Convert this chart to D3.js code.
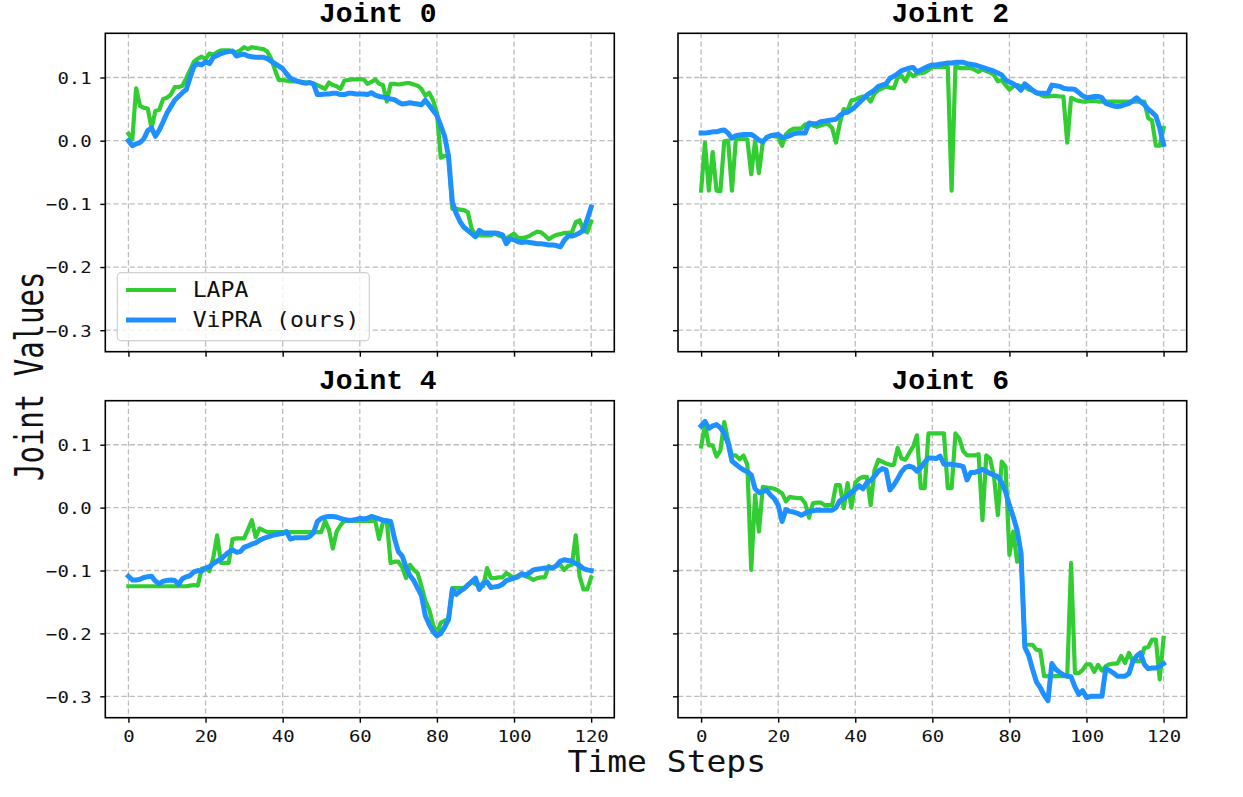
<!DOCTYPE html>
<html><head><meta charset="utf-8">
<script src="https://cdn.jsdelivr.net/npm/d3@7"></script>
<style>body{margin:0;background:#fff}</style>
</head><body>
<svg id="chart" width="1243" height="797"></svg>
<script>
// ---------------- data ----------------
const seriesNames = ["LAPA", "ViPRA (ours)"];
const jointTitles = ["Joint 0", "Joint 2", "Joint 4", "Joint 6"];
const xTicks = [0, 20, 40, 60, 80, 100, 120];
const yTicks = [0.1, 0.0, -0.1, -0.2, -0.3];
const yTickLabels = ["0.1", "0.0", "\u22120.1", "\u22120.2", "\u22120.3"];
const xLabel = "Time Steps";
const yLabel = "Joint Values";

const joint0Lapa = [0.011,0.002,0.083,0.055,0.052,0.051,0.020,0.047,0.049,0.066,0.068,0.073,0.085,0.085,0.087,0.099,0.112,0.125,0.130,0.133,
0.129,0.138,0.136,0.140,0.143,0.143,0.143,0.141,0.140,0.143,0.148,0.145,0.148,0.147,0.146,0.145,0.141,0.130,0.112,0.096,
0.096,0.095,0.094,0.094,0.094,0.093,0.092,0.092,0.090,0.088,0.085,0.082,0.092,0.088,0.086,0.082,0.095,0.096,0.097,0.097,
0.097,0.097,0.090,0.093,0.097,0.090,0.088,0.062,0.090,0.090,0.089,0.090,0.091,0.091,0.089,0.087,0.082,0.071,0.076,0.064,
0.044,-0.027,-0.024,-0.024,-0.108,-0.108,-0.109,-0.110,-0.113,-0.139,-0.150,-0.150,-0.150,-0.150,-0.150,-0.146,-0.150,-0.152,-0.155,-0.151,
-0.147,-0.154,-0.154,-0.153,-0.151,-0.147,-0.144,-0.145,-0.150,-0.156,-0.152,-0.149,-0.148,-0.146,-0.146,-0.145,-0.129,-0.126,-0.142,-0.145,
-0.128];
const joint0Vipra = [0.000,-0.008,-0.005,-0.003,0.003,0.016,0.020,0.007,0.017,0.030,0.044,0.054,0.064,0.070,0.076,0.081,0.100,0.118,0.122,0.120,
0.125,0.122,0.132,0.135,0.138,0.140,0.141,0.142,0.134,0.136,0.137,0.134,0.133,0.132,0.132,0.132,0.130,0.126,0.122,0.118,
0.114,0.106,0.099,0.096,0.094,0.092,0.091,0.092,0.090,0.073,0.073,0.074,0.074,0.075,0.075,0.073,0.073,0.075,0.075,0.074,
0.074,0.074,0.073,0.076,0.072,0.070,0.069,0.068,0.066,0.065,0.061,0.058,0.059,0.060,0.059,0.058,0.057,0.064,0.056,0.048,
0.040,0.024,0.007,-0.024,-0.097,-0.115,-0.128,-0.137,-0.142,-0.147,-0.152,-0.142,-0.146,-0.146,-0.146,-0.146,-0.147,-0.149,-0.163,-0.155,
-0.157,-0.160,-0.161,-0.160,-0.161,-0.162,-0.163,-0.163,-0.164,-0.165,-0.165,-0.166,-0.168,-0.158,-0.151,-0.151,-0.149,-0.146,-0.142,-0.124,
-0.105];
const joint2Lapa = [-0.079,-0.003,-0.079,-0.018,-0.079,-0.080,-0.001,0.000,-0.079,0.002,0.003,0.003,0.002,-0.053,0.000,-0.051,-0.002,0.005,0.008,0.007,
0.006,-0.008,0.010,0.016,0.019,0.019,0.019,0.026,0.025,0.024,0.022,0.024,0.026,0.026,0.020,-0.003,0.028,0.050,0.048,0.064,
0.065,0.068,0.070,0.069,0.062,0.075,0.080,0.083,0.086,0.084,0.083,0.100,0.103,0.094,0.108,0.102,0.106,0.107,0.108,0.112,
0.117,0.117,0.117,0.117,0.117,-0.079,0.120,0.115,0.115,0.115,0.115,0.112,0.109,0.113,0.110,0.108,0.104,0.094,0.096,0.088,
0.081,0.086,0.088,0.086,0.085,0.081,0.079,0.075,0.073,0.070,0.070,0.071,0.071,0.070,0.070,-0.003,0.068,0.065,0.063,0.062,
0.062,0.063,0.063,0.062,0.062,0.062,0.062,0.062,0.062,0.062,0.062,0.062,0.062,0.062,0.062,0.062,0.036,0.032,-0.008,-0.008,
0.020];
const joint2Vipra = [0.012,0.012,0.013,0.014,0.014,0.016,0.017,0.012,0.004,0.008,0.009,0.010,0.010,0.010,0.006,0.001,-0.002,0.005,0.008,0.009,
0.010,0.005,0.006,0.008,0.011,0.012,0.012,0.012,0.028,0.027,0.027,0.030,0.031,0.032,0.033,0.034,0.040,0.044,0.045,0.049,
0.054,0.060,0.066,0.072,0.076,0.080,0.086,0.088,0.090,0.099,0.102,0.106,0.111,0.113,0.115,0.116,0.109,0.112,0.115,0.118,
0.120,0.120,0.121,0.122,0.123,0.123,0.124,0.124,0.124,0.122,0.121,0.120,0.118,0.116,0.114,0.112,0.110,0.107,0.104,0.096,
0.093,0.090,0.086,0.080,0.090,0.085,0.080,0.076,0.075,0.075,0.075,0.088,0.087,0.086,0.083,0.082,0.082,0.081,0.076,0.071,
0.068,0.069,0.070,0.070,0.068,0.059,0.057,0.055,0.054,0.055,0.057,0.059,0.063,0.068,0.062,0.057,0.050,0.045,0.039,0.020,
-0.006];
const joint4Lapa = [-0.125,-0.125,-0.125,-0.125,-0.125,-0.125,-0.125,-0.125,-0.125,-0.125,-0.125,-0.125,-0.125,-0.125,-0.125,-0.125,-0.124,-0.123,-0.124,-0.097,
-0.096,-0.101,-0.080,-0.044,-0.088,-0.088,-0.088,-0.050,-0.049,-0.049,-0.049,-0.035,-0.020,-0.047,-0.033,-0.036,-0.039,-0.039,-0.039,-0.039,
-0.039,-0.039,-0.039,-0.039,-0.039,-0.039,-0.039,-0.039,-0.039,-0.039,-0.039,-0.021,-0.035,-0.065,-0.038,-0.028,-0.021,-0.021,-0.021,-0.021,
-0.021,-0.021,-0.021,-0.021,-0.021,-0.050,-0.023,-0.021,-0.088,-0.086,-0.086,-0.095,-0.112,-0.091,-0.099,-0.104,-0.125,-0.148,-0.162,-0.186,
-0.199,-0.183,-0.180,-0.176,-0.128,-0.128,-0.128,-0.128,-0.124,-0.117,-0.122,-0.124,-0.125,-0.096,-0.112,-0.112,-0.111,-0.111,-0.104,-0.108,
-0.112,-0.108,-0.107,-0.109,-0.111,-0.115,-0.112,-0.111,-0.111,-0.093,-0.096,-0.093,-0.091,-0.099,-0.093,-0.091,-0.044,-0.109,-0.130,-0.130,
-0.111];
const joint4Vipra = [-0.109,-0.115,-0.115,-0.114,-0.111,-0.110,-0.109,-0.117,-0.121,-0.117,-0.116,-0.115,-0.116,-0.122,-0.113,-0.110,-0.108,-0.102,-0.100,-0.101,
-0.096,-0.094,-0.089,-0.085,-0.082,-0.076,-0.071,-0.067,-0.071,-0.070,-0.063,-0.061,-0.058,-0.056,-0.052,-0.049,-0.047,-0.045,-0.043,-0.042,
-0.041,-0.038,-0.050,-0.048,-0.048,-0.048,-0.048,-0.046,-0.040,-0.022,-0.017,-0.015,-0.014,-0.014,-0.015,-0.017,-0.019,-0.020,-0.020,-0.019,
-0.017,-0.018,-0.017,-0.014,-0.016,-0.018,-0.020,-0.021,-0.022,-0.049,-0.070,-0.077,-0.095,-0.108,-0.116,-0.128,-0.140,-0.172,-0.186,-0.197,
-0.204,-0.200,-0.190,-0.178,-0.130,-0.138,-0.133,-0.129,-0.123,-0.118,-0.112,-0.130,-0.120,-0.118,-0.127,-0.126,-0.125,-0.122,-0.116,-0.114,
-0.112,-0.110,-0.105,-0.107,-0.104,-0.099,-0.098,-0.097,-0.096,-0.096,-0.096,-0.092,-0.085,-0.083,-0.084,-0.085,-0.089,-0.092,-0.097,-0.099,
-0.100];
const joint6Lapa = [0.097,0.131,0.099,0.099,0.081,0.091,0.136,0.107,0.083,0.083,0.077,0.083,0.068,-0.099,0.020,-0.038,0.033,0.032,0.031,0.030,
0.027,0.023,0.010,0.017,0.016,0.015,0.015,0.007,-0.016,0.007,0.008,0.008,0.004,0.004,0.004,0.036,0.036,-0.001,0.039,0.000,
0.040,0.046,0.049,0.049,0.004,0.060,0.076,0.073,0.070,0.068,0.068,0.095,0.078,0.076,0.087,0.097,0.115,0.031,0.031,0.118,
0.118,0.118,0.118,0.118,0.031,0.031,0.118,0.110,0.090,0.083,0.083,0.083,0.085,-0.020,0.083,0.078,0.049,-0.012,0.073,0.065,
-0.075,-0.038,-0.086,-0.070,-0.218,-0.218,-0.218,-0.226,-0.227,-0.268,-0.268,-0.268,-0.268,-0.268,-0.268,-0.268,-0.088,-0.263,-0.263,-0.258,
-0.249,-0.249,-0.261,-0.250,-0.259,-0.252,-0.249,-0.248,-0.248,-0.236,-0.247,-0.231,-0.244,-0.244,-0.244,-0.223,-0.222,-0.210,-0.210,-0.273,
-0.207];
const joint6Vipra = [0.130,0.137,0.126,0.130,0.132,0.127,0.118,0.102,0.074,0.069,0.064,0.060,0.057,0.052,0.030,0.024,0.026,0.028,0.020,0.014,
0.004,-0.022,-0.003,-0.006,-0.007,-0.009,-0.012,-0.009,-0.006,-0.005,-0.004,-0.004,-0.004,-0.004,-0.004,0.000,0.011,0.014,0.019,0.024,
0.029,0.035,0.030,0.040,0.043,0.050,0.058,0.062,0.060,0.028,0.036,0.046,0.057,0.064,0.066,0.064,0.058,0.064,0.072,0.079,
0.079,0.078,0.082,0.069,0.069,0.069,0.068,0.067,0.065,0.044,0.056,0.056,0.058,0.061,0.058,0.054,0.052,0.049,0.040,0.025,
0.004,-0.015,-0.036,-0.072,-0.222,-0.235,-0.257,-0.277,-0.286,-0.298,-0.307,-0.248,-0.257,-0.262,-0.266,-0.268,-0.269,-0.285,-0.297,-0.291,
-0.302,-0.300,-0.300,-0.300,-0.300,-0.256,-0.259,-0.263,-0.268,-0.268,-0.268,-0.264,-0.245,-0.236,-0.231,-0.249,-0.256,-0.255,-0.255,-0.252,
-0.248];

const lapaSeries = [joint0Lapa, joint2Lapa, joint4Lapa, joint6Lapa];
const vipraSeries = [joint0Vipra, joint2Vipra, joint4Vipra, joint6Vipra];

// ---------------- layout / style ----------------
const colors = ["#32CD32", "#1E90FF"];
const widths = [4.2, 5.0];
const xDomain = [-6, 126];
const yDomain = [-0.334, 0.170];
const panels = [
  {x0: 105.3, x1: 614.3, y0: 33.3,  y1: 351.7, showX: false, showY: true},
  {x0: 678.0, x1: 1186.7, y0: 33.3, y1: 351.7, showX: false, showY: false},
  {x0: 105.3, x1: 614.3, y0: 400.7, y1: 717.7, showX: true,  showY: true},
  {x0: 678.0, x1: 1186.7, y0: 400.7, y1: 717.7, showX: true, showY: false}
];
const monoFont = "'DejaVu Sans Mono', monospace";
const titleFont = "'Liberation Mono', 'Courier New', monospace";
const gridColor = "#bdbdbd";

const svg = d3.select("#chart");

panels.forEach((p, i) => {
  const x = d3.scaleLinear().domain(xDomain).range([p.x0, p.x1]);
  const y = d3.scaleLinear().domain(yDomain).range([p.y1, p.y0]);
  const g = svg.append("g");

  // grid
  g.append("g").selectAll("line").data(xTicks).join("line")
    .attr("x1", d => x(d)).attr("x2", d => x(d))
    .attr("y1", p.y0).attr("y2", p.y1)
    .attr("stroke", gridColor).attr("stroke-width", 1.3)
    .attr("stroke-dasharray", "5.3,2.8");
  g.append("g").selectAll("line").data(yTicks).join("line")
    .attr("x1", p.x0).attr("x2", p.x1)
    .attr("y1", d => y(d)).attr("y2", d => y(d))
    .attr("stroke", gridColor).attr("stroke-width", 1.3)
    .attr("stroke-dasharray", "5.3,2.8");

  // lines
  const line = d3.line().x((d, k) => x(k)).y(d => y(d));
  [lapaSeries[i], vipraSeries[i]].forEach((vals, s) => {
    g.append("path").datum(vals)
      .attr("d", line)
      .attr("fill", "none")
      .attr("stroke", colors[s])
      .attr("stroke-width", widths[s])
      .attr("stroke-linejoin", "round")
      .attr("stroke-linecap", "square");
  });

  // axes
  const xAxis = g.append("g").attr("transform", `translate(0,${p.y1})`)
    .call(d3.axisBottom(x).tickValues(xTicks).tickSize(5).tickFormat(d => d));
  const yAxis = g.append("g").attr("transform", `translate(${p.x0},0)`)
    .call(d3.axisLeft(y).tickValues(yTicks).tickSize(5).tickFormat((d, k) => yTickLabels[k]));
  [xAxis, yAxis].forEach(a => {
    a.select(".domain").remove();
    a.selectAll(".tick line").attr("stroke", "#000").attr("stroke-width", 1.4);
    a.selectAll("text").attr("font-family", monoFont).attr("font-size", 16.5).attr("fill", "#111");
  });
  if (p.showX) {
    xAxis.selectAll(".tick text").attr("y", null).attr("dy", null)
      .attr("transform", "translate(0,23.8) scale(1.15,1)");
  } else {
    xAxis.selectAll(".tick text").remove();
  }
  if (p.showY) {
    yAxis.selectAll(".tick text").attr("x", null).attr("dy", "0.36em")
      .attr("transform", "translate(-13.6,0) scale(1.15,1)");
  } else {
    yAxis.selectAll(".tick text").remove();
  }

  // frame
  g.append("rect").attr("x", p.x0).attr("y", p.y0)
    .attr("width", p.x1 - p.x0).attr("height", p.y1 - p.y0)
    .attr("fill", "none").attr("stroke", "#000").attr("stroke-width", 1.6);

  // title
  g.append("text")
    .attr("x", (p.x0 + p.x1) / 2 + 18).attr("y", p.y0 - 11.3)
    .attr("text-anchor", "middle")
    .attr("font-family", titleFont).attr("font-weight", "bold")
    .attr("font-size", 28).attr("fill", "#000")
    .text(jointTitles[i]);

  // legend in first panel
  if (i === 0) {
    const lg = g.append("g");
    lg.append("rect").attr("x", 117.3).attr("y", 272.7).attr("width", 252).attr("height", 68)
      .attr("rx", 4).attr("fill", "#fff").attr("fill-opacity", 0.8)
      .attr("stroke", "#d0d0d0").attr("stroke-width", 1.2);
    const rowsY = [290, 320];
    seriesNames.forEach((name, s) => {
      lg.append("line").attr("x1", 126).attr("x2", 176)
        .attr("y1", rowsY[s]).attr("y2", rowsY[s])
        .attr("stroke", colors[s]).attr("stroke-width", widths[s]);
      lg.append("text")
        .attr("transform", `translate(192.7,${rowsY[s] + 7.3}) scale(1.1,1)`)
        .attr("font-family", monoFont).attr("font-size", 21).attr("fill", "#111")
        .text(name);
    });
  }
});

// shared axis labels
svg.append("text")
  .attr("transform", "translate(666.8,771.5) scale(1.1,1)")
  .attr("text-anchor", "middle")
  .attr("font-family", monoFont).attr("font-size", 30).attr("fill", "#111")
  .text(xLabel);
svg.append("text")
  .attr("transform", "translate(43.3,376.3) rotate(-90) scale(1,1.36)")
  .attr("text-anchor", "middle")
  .attr("font-family", monoFont).attr("font-size", 29).attr("fill", "#111")
  .text(yLabel);
</script>
</body></html>
